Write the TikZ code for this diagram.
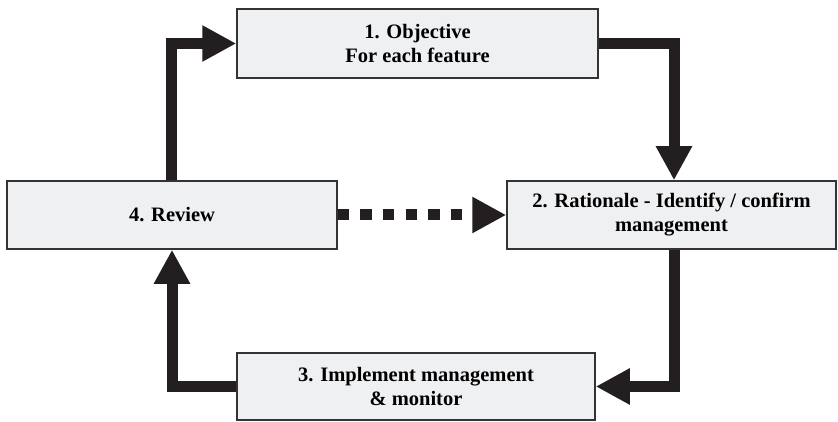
\documentclass[tikz,border=0pt]{standalone}
\usepackage{fontspec}
\setmainfont{Liberation Serif}
\usetikzlibrary{arrows.meta}
\definecolor{boxfill}{HTML}{EFF0F2}
\definecolor{boxline}{HTML}{333333}
\definecolor{ink}{HTML}{231F20}
\begin{document}
\begin{tikzpicture}[x=1pt,y=-1pt,
  stagebox/.style={draw=boxline,fill=boxfill,line width=1.5pt,
    inner sep=0pt,align=center,
    font=\fontsize{20.5}{24}\selectfont\bfseries},
  flow/.style={draw=ink,line width=11pt,miter limit=10,line join=miter,
    -{Triangle[length=34pt,width=34pt]}},
  dotflow/.style={flow,dash pattern=on 11.5pt off 11.1pt}]
\useasboundingbox (0,0) rectangle (838,422);
\node[stagebox,minimum width=361pt,minimum height=69pt] (b1) at (417.5,43.5)
  {1. Objective\\For each feature};
\node[stagebox,minimum width=329pt,minimum height=68pt] (b2) at (671.5,215)
  {2. Rationale - Identify / confirm\\management};
\node[stagebox,minimum width=358pt,minimum height=67pt] (b3) at (416,386.5)
  {3. Implement management\\\& monitor};
\node[stagebox,minimum width=330pt,minimum height=68pt] (b4) at (172,215)
  {4. Review};
\draw[flow] ([xshift=-1pt]b4.north) |- (b1.west);
\draw[flow] (b1.east) -| ([xshift=2.5pt]b2.north);
\draw[flow] ([xshift=2.5pt]b2.south) |- (b3.east);
\draw[flow] (b3.west) -| (b4.south);
\draw[dotflow] (b4.east) -- (b2.west);
\end{tikzpicture}
\end{document}
